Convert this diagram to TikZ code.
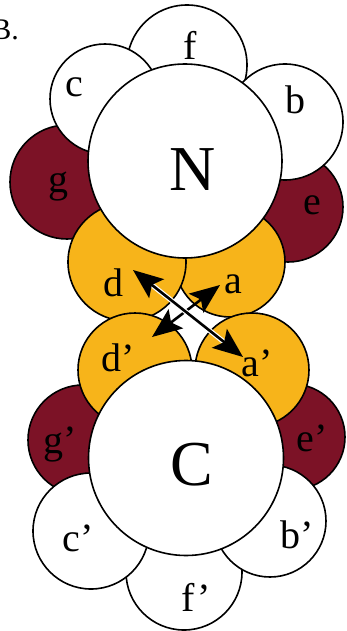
\documentclass[tikz,border=0pt]{standalone}
\usepackage{fontspec}
\setmainfont{Liberation Serif}
\usetikzlibrary{arrows.meta}
\definecolor{saltred}{RGB}{124,18,38}
\definecolor{coreyel}{RGB}{247,180,26}
\begin{document}
\begin{tikzpicture}[x=1pt, y=-1pt,
  wheel/.style={circle, draw, line width=1.6pt, inner sep=0pt, minimum size=#1},
  surf/.style={wheel=#1, fill=white},
  salt/.style={wheel=#1, fill=saltred},
  core/.style={wheel=#1, fill=coreyel},
  lbl/.style={font=\fontsize{40}{40}\selectfont, inner sep=0pt},
  big/.style={font=\fontsize{64}{64}\selectfont, inner sep=0pt},
  link/.style={line width=2.6pt, >={Stealth[length=30pt,width=24pt,inset=6pt]}, <->}
]
\useasboundingbox (0,0) rectangle (347,631);
% charged positions
\node[salt=114] (g)  at (67,182)  {};
\node[salt=110] (e)  at (288,207) {};
\node[salt=110] (g2) at (83,440)  {};
\node[salt=106] (e2) at (292,437) {};
% core positions
\node[core=110] (a)  at (230,262) {};
\node[core=118] (d)  at (127,262) {};
\node[core=114] (d2) at (135,370) {};
\node[core=114] (a2) at (252,370) {};
% exposed positions
\node[surf=120] (f)  at (187,65)  {};
\node[surf=110] (c)  at (105,99)  {};
\node[surf=116] (b)  at (285,122) {};
\node[surf=116] (f2) at (184,572) {};
\node[surf=116] (c2) at (91,531)  {};
\node[surf=112] (b2) at (270,521) {};
% helices
\node[surf=194] (N) at (185,161) {};
\node[surf=195] (C) at (186,458) {};
% labels
\node[lbl, anchor=east] (tag) at (19,30) {\fontsize{30}{30}\selectfont B.};
\node[lbl] (lf)  at (190,45)  {f};
\node[lbl] (lc)  at (74,87)   {c};
\node[lbl] (lb)  at (295,100) {b};
\node[lbl] (lg)  at (58,187)  {g};
\node[lbl] (le)  at (312,205) {e};
\node[lbl] (ld)  at (113,283) {d};
\node[lbl] (la)  at (233,284) {a};
\node[lbl] (ld2) at (118,358) {d'};
\node[lbl] (la2) at (257,363) {a'};
\node[lbl] (lg2) at (60,445)  {g'};
\node[lbl] (le2) at (312,438) {e'};
\node[lbl] (lc2) at (78,538)  {c'};
\node[lbl] (lb2) at (297,535) {b'};
\node[lbl] (lf2) at (196,597) {f'};
\node[big] (lN) at (193,170) {N};
\node[big] (lC) at (192,465) {C};
% interactions
\coordinate (dtip)  at (133,270);
\coordinate (a2tip) at (243,357);
\coordinate (d2tip) at (152,337);
\coordinate (atip)  at (220,285);
\draw[link] (d2tip) -- (atip);
\draw[link, preaction={draw=white, line width=5pt, shorten <=22pt, shorten >=22pt, arrows=-}] (dtip) -- (a2tip);
\end{tikzpicture}
\end{document}
